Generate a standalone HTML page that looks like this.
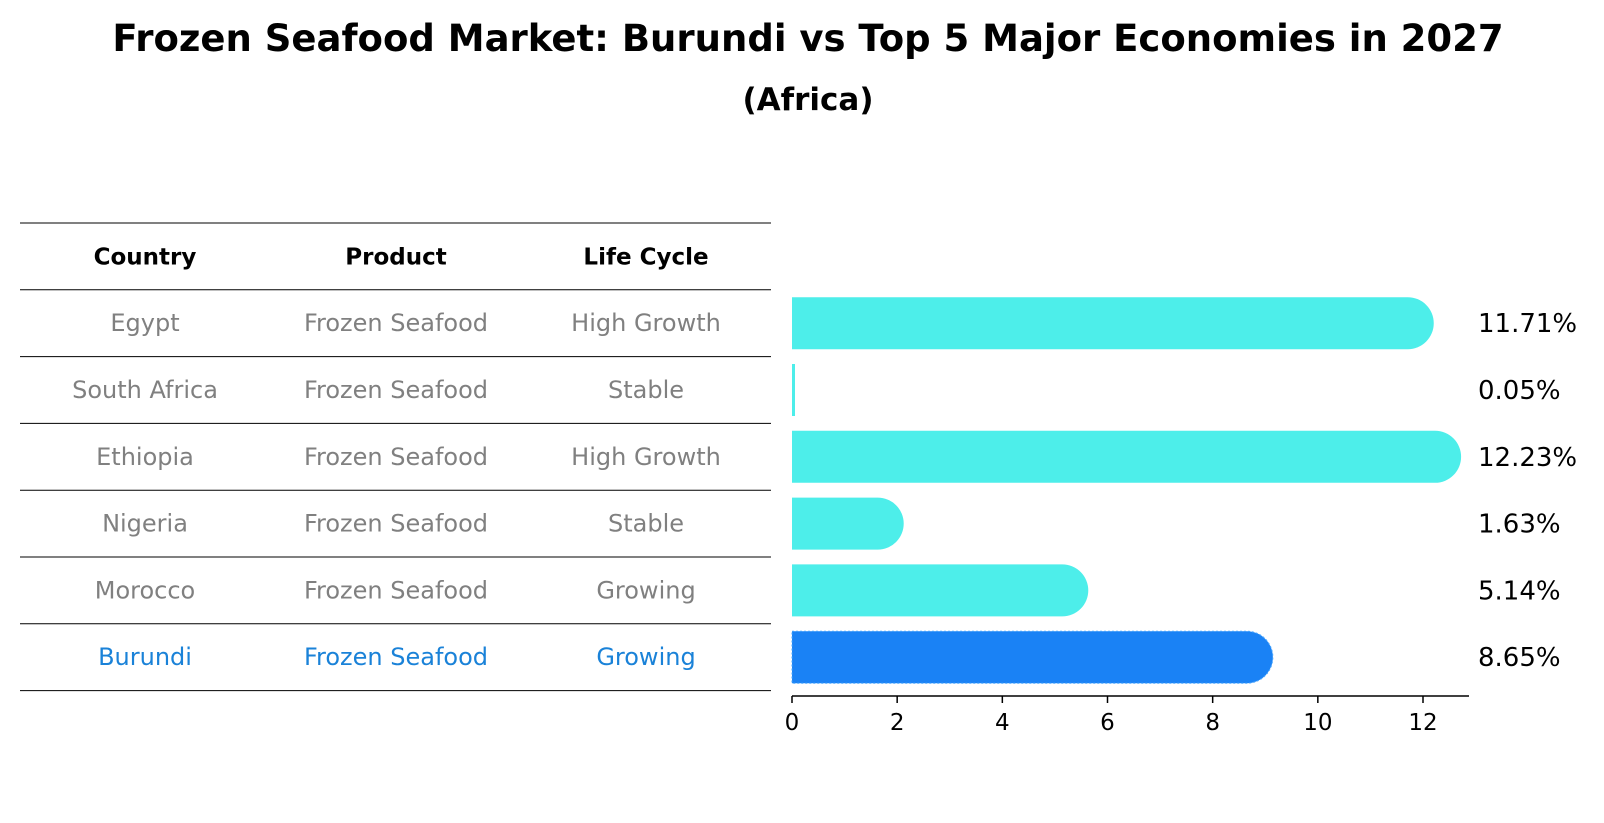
<!DOCTYPE html>
<html><head><meta charset="utf-8"><style>
body{margin:0;background:#fff;font-family:"Liberation Sans","DejaVu Sans",sans-serif;}
#wrap{position:relative;width:1604px;height:823px;overflow:hidden;}
</style></head><body>
<div id="wrap">
<svg id="svg" width="1604" height="823" font-family="DejaVu Sans, Liberation Sans, sans-serif">
<text x="808" y="51" text-anchor="middle" font-size="37" font-weight="bold">Frozen Seafood Market: Burundi vs Top 5 Major Economies in 2027</text>
<text x="808" y="110" text-anchor="middle" font-size="31" font-weight="bold">(Africa)</text>
<g id="table"></g>
<g id="bars"></g>
</svg>
</div>
<script>
const countries=["Egypt","South Africa","Ethiopia","Nigeria","Morocco","Burundi"];
const products=["Frozen Seafood","Frozen Seafood","Frozen Seafood","Frozen Seafood","Frozen Seafood","Frozen Seafood"];
const lifeCycles=["High Growth","Stable","High Growth","Stable","Growing","Growing"];
const values=[11.71,0.05,12.23,1.63,5.14,8.65];
const valueLabels=["11.71%","0.05%","12.23%","1.63%","5.14%","8.65%"];
const xTicks=[0,2,4,6,8,10,12];

const NS="http://www.w3.org/2000/svg";
const svg=document.getElementById('svg');
const tg=document.getElementById('table');
const bg=document.getElementById('bars');
function mk(tag,attrs,parent,text){const e=document.createElementNS(NS,tag);for(const k in attrs)e.setAttribute(k,attrs[k]);if(text!==undefined)e.textContent=text;parent.appendChild(e);return e;}
const x0=792,unit=(1423-792)/12;
function xs(v){return x0+v*unit;}
const headerY=223,rowH=66.8;
function rowTop(i){return headerY+rowH*(i+1);}
function rowC(i){return rowTop(i)+rowH/2;}
const colX=[145,396,646];
for(let i=0;i<=countries.length+1;i++){
  const y=headerY+rowH*i;
  const l=mk('line',{x1:20,x2:771,y1:y,y2:y,stroke:'#000','stroke-width':1},tg);
  
  
}
const headers=["Country","Product","Life Cycle"];
headers.forEach((h,j)=>{
  const t=mk('text',{x:colX[j],y:headerY+rowH/2+8,'text-anchor':'middle','font-size':23,'font-weight':'bold'},tg,h);
  
  
});
countries.forEach((c,i)=>{
  const col=i===countries.length-1?'#1a82d8':'#808080';
  [c,products[i],lifeCycles[i]].forEach((s,j)=>{
    const t=mk('text',{x:colX[j],y:rowC(i)+8,'text-anchor':'middle','font-size':24,fill:col},tg,s);
    
    
  });
});
const bh=52;
values.forEach((v,i)=>{
  const y=rowC(i)-bh/2, w=xs(v)-x0, r=bh/2;
  const last=i===values.length-1;
  const d=w>=4?`M${x0},${y} H${x0+w} A${r},${r} 0 0 1 ${x0+w},${y+bh} H${x0} Z`:`M${x0},${y} H${x0+3} V${y+bh} H${x0} Z`;
  const p=mk('path',{d:d,fill:last?'#1a82f5':'#4deeea'},bg);
  if(last){p.setAttribute('stroke','#4aa8ff');p.setAttribute('stroke-dasharray','2,2');}
  
  
  const t=mk('text',{x:1478,y:rowC(i)+9,'font-size':26},bg,valueLabels[i]);
  
  
});
const ay=696;
const ax=mk('line',{x1:x0,x2:1469,y1:ay,y2:ay,stroke:'#000','stroke-width':1.5},bg);


xTicks.forEach(v=>{
  const l=mk('line',{x1:xs(v),x2:xs(v),y1:ay,y2:ay+7,stroke:'#000','stroke-width':1.5},bg);
  
  
  const t=mk('text',{x:xs(v),y:ay+34,'text-anchor':'middle','font-size':23},bg,String(v));
  
  
});
</script>
</body></html>
